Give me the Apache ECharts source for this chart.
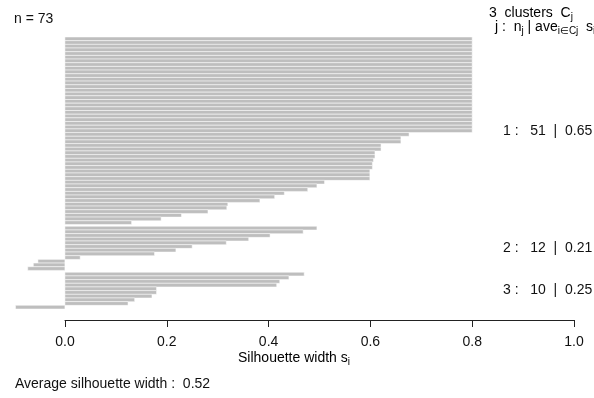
<!DOCTYPE html>
<html>
<head>
<meta charset="utf-8">
<script src="https://cdn.jsdelivr.net/npm/echarts@6/dist/echarts.min.js"></script>
<style>
  html, body { margin: 0; padding: 0; background: #fff; }
  #chart { width: 594px; height: 398px; }
</style>
</head>
<body>
<div id="chart"></div>
<script>
// silhouette widths, sorted within each cluster (top to bottom)
const cluster1 = [
  0.80, 0.80, 0.80, 0.80, 0.80, 0.80, 0.80, 0.80, 0.80, 0.80,
  0.80, 0.80, 0.80, 0.80, 0.80, 0.80, 0.80, 0.80, 0.80, 0.80,
  0.80, 0.80, 0.80, 0.80, 0.80, 0.80,
  0.676, 0.660, 0.660, 0.621, 0.621, 0.609, 0.609, 0.606, 0.604, 0.604,
  0.599, 0.599, 0.599, 0.510, 0.495, 0.477, 0.431, 0.412, 0.383, 0.320,
  0.318, 0.281, 0.229, 0.189, 0.131
];
const cluster2 = [0.495, 0.468, 0.403, 0.361, 0.317, 0.250, 0.218, 0.176, 0.030, -0.053, -0.062, -0.073];
const cluster3 = [0.470, 0.440, 0.422, 0.416, 0.180, 0.180, 0.171, 0.137, 0.124, -0.097];
const clusters = [cluster1, cluster2, cluster3];
const clusterAvg = ['0.65', '0.21', '0.25'];
const avgWidth = '0.52';

const GAP = 0.5; // space between clusters, in bar widths

// bar slots: [value, centre position]
const barData = [];
const clusterMid = [];
let pos = 0;
clusters.forEach((c, ci) => {
  if (ci > 0) pos += GAP;
  const start = pos;
  c.forEach(v => {
    barData.push([v, pos + 0.5]);
    pos += 1;
  });
  clusterMid.push((start + pos) / 2);
});
const totalSlots = pos;
const nTotal = barData.length;

const font = 'Liberation Sans, Arial, sans-serif';
const txt = '#111';
const fs = 14;

const chart = echarts.init(document.getElementById('chart'));

const option = {
  animation: false,
  backgroundColor: '#fff',
  grid: [
    { left: 14, width: 560, top: 37, height: 272 },
    { left: 65, width: 509, top: 315, height: 5 }
  ],
  xAxis: [
    {
      gridIndex: 0, type: 'value', min: -0.1, max: 1.0,
      axisLine: { show: false }, axisTick: { show: false },
      axisLabel: { show: false }, splitLine: { show: false }
    },
    {
      gridIndex: 1, type: 'value', min: 0, max: 1, interval: 0.2,
      axisLine: { show: true, lineStyle: { color: '#222', width: 1 } },
      axisTick: { show: true, length: 7, lineStyle: { color: '#222' } },
      axisLabel: {
        show: true, margin: 15, fontSize: fs, color: txt, fontFamily: font,
        formatter: v => v.toFixed(1)
      },
      splitLine: { show: false }
    }
  ],
  yAxis: [
    { gridIndex: 0, type: 'value', min: 0, max: totalSlots, inverse: true, show: false },
    { gridIndex: 1, type: 'value', min: 0, max: 1, show: false }
  ],
  series: [
    {
      type: 'custom',
      xAxisIndex: 0,
      yAxisIndex: 0,
      data: barData,
      renderItem: (params, api) => {
        const v = api.value(0);
        const p = api.value(1);
        const a = api.coord([0, p - 0.5]);
        const b = api.coord([v, p + 0.5]);
        return {
          type: 'rect',
          shape: {
            x: Math.min(a[0], b[0]),
            y: Math.min(a[1], b[1]),
            width: Math.abs(b[0] - a[0]),
            height: Math.abs(b[1] - a[1])
          },
          style: { fill: '#bebebe', stroke: '#fff', lineWidth: 0.5 }
        };
      }
    }
  ]
};
chart.setOption(option);

const subRich = {
  m: { fontSize: fs, fontFamily: font, color: txt, lineHeight: 17 },
  s: { fontSize: 10, fontFamily: font, color: txt, lineHeight: 17, padding: [7, 0, 0, 0] }
};

const graphics = [
  {
    type: 'text', left: 14, top: 12,
    style: { text: 'n = ' + nTotal, fontSize: fs, fontFamily: font, fill: txt }
  },
  {
    type: 'text', left: 489, top: 5,
    style: { text: '{m|3  clusters  C}{s|j}', rich: subRich }
  },
  {
    type: 'text', left: 495, top: 19,
    style: { text: '{m|j :  n}{s|j}{m| | ave}{s|i\u2208Cj}{m|  s}{s|i}', rich: subRich }
  },
  {
    type: 'text',
    x: chart.convertToPixel({ xAxisIndex: 0 }, 0.45), y: 350,
    style: { text: '{m|Silhouette width s}{s|i}', rich: subRich, align: 'center' }
  },
  {
    type: 'text', left: 15, top: 377,
    style: { text: 'Average silhouette width :  ' + avgWidth, fontSize: fs, fontFamily: font, fill: txt }
  }
];

clusters.forEach((c, ci) => {
  const y = chart.convertToPixel({ yAxisIndex: 0 }, clusterMid[ci]);
  graphics.push({
    type: 'text', left: 503, top: y - 7,
    style: {
      text: (ci + 1) + ' :   ' + c.length + '  |  ' + clusterAvg[ci],
      fontSize: fs, fontFamily: font, fill: txt
    }
  });
});

chart.setOption({ graphic: graphics });
</script>
</body>
</html>
